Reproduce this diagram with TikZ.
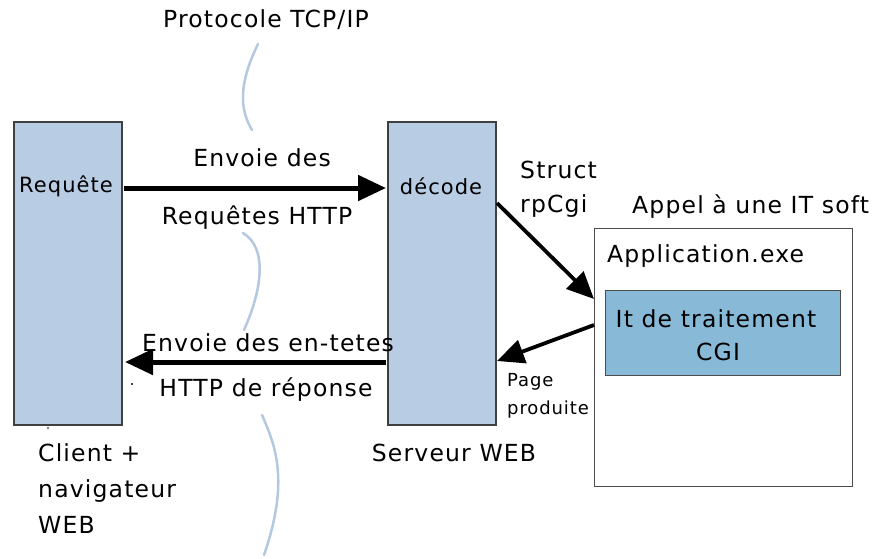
\documentclass[tikz,border=0pt]{standalone}
\usepackage{fontspec}
\setmainfont{DejaVu Sans}[LetterSpace=5]
\usetikzlibrary{arrows.meta}
\definecolor{boxblue}{HTML}{B8CCE4}
\definecolor{itblue}{HTML}{88BAD8}
\definecolor{wave}{HTML}{B4C8E0}
\begin{document}
\begin{tikzpicture}[x=1pt,y=-1pt,
  lbl/.style={inner sep=0pt,font=\fontsize{23.5}{26}\selectfont},
  small/.style={inner sep=0pt,font=\fontsize{18}{20}\selectfont},
  hand/.style={inner sep=0pt,font=\fontsize{21}{24}\selectfont},
  tall/.style={draw=black!75,line width=1.6pt,fill=boxblue},
  bigarrow/.style={line width=5pt,-{Triangle[length=28pt,width=25pt]}},
  midarrow/.style={line width=3.8pt,-{Triangle[length=27pt,width=24pt]}},
  wavy/.style={draw=wave,line width=2.5pt,line cap=round}]
\useasboundingbox (0,0) rectangle (872,558);
% wavy protocol line
\draw[wavy] (258,44) .. controls (238,85) and (240,110) .. (252,130);
\draw[wavy] (243,233) .. controls (268,248) and (262,290) .. (244,330);
\draw[wavy] (262,415) .. controls (275,445) and (290,480) .. (264,555);
% boxes
\draw[tall] (14,122) rectangle (122,425);
\draw[tall] (388,122) rectangle (496,425);
\node[hand] (req) at (66,186) {Requête};
\node[hand] (dec) at (441,186) {décode};
\coordinate (reqR) at (124,188);
\coordinate (decL) at (386,188);
\coordinate (decR) at (497,203);
\coordinate (decR2) at (497,361);
\coordinate (reqR2) at (125,362);
\coordinate (decL2) at (386,362);
% application box
\draw[draw=black!70,line width=1pt,fill=white] (594,228) rectangle (852,486);
\node[draw=black!70,line width=1pt,fill=itblue,minimum width=235pt,minimum height=85pt,anchor=north west,inner sep=0pt] (it) at (605,290) {};
\coordinate (appIn) at (594,299);
\coordinate (appOut) at (594,325);
% arrows
\draw[bigarrow] (reqR) -- (decL);
\draw[bigarrow] (decL2) -- (reqR2);
\draw[midarrow] (decR) -- (appIn);
\draw[midarrow] (appOut) -- (decR2);
% labels
\node[lbl] (tcp) at (266,20) {Protocole TCP/IP};
\node[lbl] (env1) at (262,158) {Envoie des};
\node[lbl] (env2) at (257,218) {Requêtes HTTP};
\node[lbl] (rep1) at (268,343) {Envoie des en-tetes};
\node[lbl] (rep2) at (266,390) {HTTP de réponse};
\node[lbl,anchor=west] (st1) at (520,170) {Struct};
\node[lbl,anchor=west] (st2) at (520,206) {rpCgi};
\node[lbl,anchor=west] (appel) at (632,207) {Appel à une IT soft};
\node[lbl,anchor=west] (appexe) at (607,256) {Application.exe};
\node[lbl] (it1) at (716,319) {It de traitement};
\node[lbl] (it2) at (718,352) {CGI};
\node[small,anchor=west] (pg1) at (507,382) {Page};
\node[small,anchor=west] (pg2) at (507,410) {produite};
\node[lbl] (srv) at (454,453) {Serveur WEB};
\node[lbl,anchor=west] (cl1) at (38,453) {Client +};
\node[lbl,anchor=west] (cl2) at (38,491) {navigateur};
\node[lbl,anchor=west] (cl3) at (38,525) {WEB};
\fill (132,384) circle (1.2pt);
\fill (48,428) circle (0.8pt);
\end{tikzpicture}
\end{document}
